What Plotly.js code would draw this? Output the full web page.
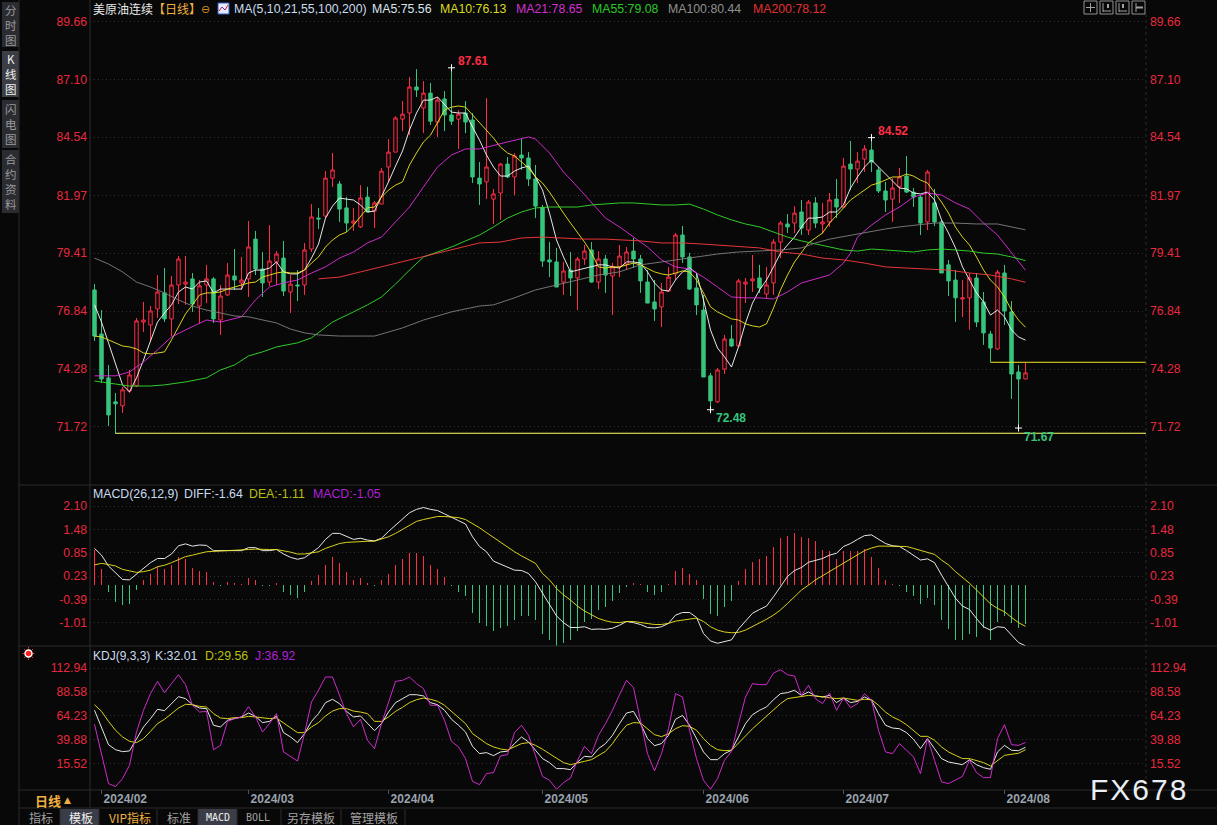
<!DOCTYPE html>
<html>
<head>
<meta charset="utf-8">
<script src="https://cdn.plot.ly/plotly-3.0.1.min.js"></script>
<style>
html,body{margin:0;padding:0;background:#080808;overflow:hidden}
#chart{width:1217px;height:825px}
</style>
</head>
<body>
<div id="chart"></div>
<script>
// ---------- candles (trading-day order) ----------
const openP=[77.78,75.83,73.89,72.83,72.65,73.31,73.53,76.36,76.23,76.94,77.65,76.50,78.00,78.04,78.27,77.07,78.00,78.27,76.45,77.56,78.40,78.09,78.27,80.03,78.71,78.13,79.02,79.19,77.69,78.00,78.00,79.59,80.96,81.05,82.73,82.47,81.41,80.74,80.57,81.89,81.27,81.58,83.22,83.88,85.34,85.61,86.76,85.83,86.49,85.21,86.23,85.52,85.34,85.61,85.30,82.73,82.56,81.80,82.07,83.35,82.78,83.75,83.62,82.69,81.41,79.11,79.02,78.13,78.66,78.31,79.15,79.55,78.13,79.15,78.40,78.80,78.93,79.50,79.15,78.13,77.25,77.03,77.73,78.49,80.21,79.24,77.87,76.89,73.98,72.83,74.28,75.61,75.30,78.04,78.18,78.31,77.60,78.09,79.90,80.70,80.74,81.23,80.43,81.63,80.70,80.79,81.80,81.45,83.35,83.13,83.57,83.97,83.09,82.16,81.80,82.34,82.82,82.11,81.89,80.79,81.63,80.79,78.89,78.22,77.38,77.43,78.31,77.25,75.83,75.17,78.53,76.81,74.15,73.84];
const highP=[78.04,76.89,74.46,73.22,73.49,74.24,76.54,77.25,77.07,78.44,78.75,78.40,79.28,79.28,78.53,78.22,78.89,78.35,78.00,78.97,79.59,79.24,80.83,80.39,79.46,80.65,79.50,79.95,78.44,78.66,79.86,81.58,81.41,83.04,83.84,82.60,81.89,81.41,82.42,82.34,81.72,83.18,84.46,85.47,86.14,87.20,87.55,87.02,86.94,86.32,86.58,87.61,85.74,86.14,85.61,83.44,86.27,82.25,83.40,83.66,83.84,84.46,83.88,83.31,81.54,79.90,79.64,79.02,79.46,79.24,79.77,79.90,79.50,79.33,78.97,79.77,79.68,80.08,79.33,78.66,78.22,78.09,78.80,80.30,80.61,79.42,78.53,77.56,74.11,74.33,75.79,76.23,78.27,78.31,79.33,78.89,78.80,80.03,80.83,81.14,81.49,81.76,81.76,81.89,81.63,82.07,82.69,83.62,84.37,83.88,84.19,84.52,83.22,82.56,82.73,83.18,83.71,82.29,81.98,83.09,82.25,80.88,79.11,78.66,78.22,78.53,78.53,77.69,75.97,78.66,78.89,77.29,74.46,74.55];
const lowP=[75.52,73.67,71.76,71.41,72.34,73.22,73.49,75.92,75.52,76.54,76.36,75.74,77.16,77.12,76.81,76.28,77.20,76.32,75.79,77.51,77.78,77.78,77.47,78.44,77.47,77.96,78.00,77.51,76.76,77.29,77.56,79.46,80.48,80.96,82.34,80.79,80.34,80.39,80.52,81.23,80.52,81.58,82.56,83.88,84.81,84.63,86.32,84.72,85.08,84.54,84.81,85.08,84.02,84.72,82.51,81.54,81.80,80.70,80.88,82.73,81.98,83.09,82.38,80.96,78.80,78.35,77.91,77.56,77.51,76.89,78.89,78.09,77.82,77.65,76.67,78.35,78.66,78.75,77.65,77.20,76.41,76.14,77.69,78.22,78.97,77.78,76.67,73.93,72.48,72.78,74.06,75.26,75.30,77.20,77.69,77.65,77.43,77.56,79.19,80.30,80.30,80.21,80.21,80.52,80.26,80.57,80.96,81.41,82.20,82.51,83.00,83.00,82.07,81.23,80.79,81.63,82.07,81.45,80.21,80.43,80.61,78.53,77.51,76.36,76.58,76.01,76.14,75.35,74.59,75.13,76.23,72.96,71.67,73.84];
const closeP=[75.74,73.84,72.25,72.74,73.36,74.02,76.41,76.45,76.85,77.69,76.50,78.00,79.15,78.13,77.16,77.96,78.27,76.50,77.51,78.44,78.22,78.22,79.68,78.71,78.09,79.06,79.37,77.73,78.04,77.96,79.55,81.01,80.92,82.73,83.09,81.36,80.74,80.83,81.85,81.23,81.63,83.04,83.88,85.39,85.56,86.76,86.63,86.49,85.25,86.18,85.52,85.25,85.56,85.21,82.78,82.47,83.22,82.03,83.35,82.78,83.71,83.62,82.69,81.49,79.06,79.02,77.91,78.62,78.31,79.15,79.50,78.13,79.15,78.44,78.80,79.28,79.46,79.15,78.18,77.20,76.94,77.69,78.35,80.21,79.24,77.82,77.12,73.93,72.87,74.24,75.61,75.30,78.18,78.13,78.27,77.87,78.00,79.90,80.74,80.57,81.18,80.52,81.67,80.74,80.79,81.76,81.45,83.26,83.13,83.48,84.02,83.44,82.16,81.76,82.29,82.78,82.11,81.89,80.74,83.00,80.79,78.53,78.18,77.43,77.43,78.31,76.36,75.88,75.21,78.57,76.85,74.06,73.84,74.11];
// ---------- moving averages ----------
const ma5=[77.12,76.36,75.44,74.55,73.58,73.27,73.89,74.68,75.57,76.36,76.76,77.12,77.69,77.91,77.82,78.13,78.18,77.65,77.82,77.82,77.82,77.82,78.53,78.66,78.66,78.75,79.02,78.58,78.49,78.49,78.66,79.19,79.81,80.96,81.49,81.85,81.80,81.76,81.54,81.23,81.27,81.89,82.56,83.26,83.93,84.86,85.61,86.18,86.18,86.32,86.00,85.65,85.61,85.61,84.99,84.41,83.75,83.22,82.82,82.82,83.04,83.18,83.26,82.78,82.20,81.18,79.99,79.24,78.58,78.66,78.75,78.80,78.89,78.89,78.80,78.75,79.02,79.02,78.97,78.58,78.09,77.78,77.73,78.22,78.58,78.75,78.53,77.34,76.01,75.21,74.82,74.37,75.26,76.32,77.20,77.78,78.22,78.80,79.41,79.77,80.12,80.57,80.96,80.96,81.01,81.23,81.23,81.54,82.29,82.78,83.22,83.53,83.22,82.87,82.56,82.29,82.25,82.07,82.03,82.11,81.76,80.88,80.30,79.64,78.80,78.22,77.65,77.25,76.67,76.89,76.59,76.01,75.70,75.56];
const ma10=[75.74,75.70,75.57,75.44,75.30,75.26,75.17,74.99,74.95,74.99,75.04,75.57,76.14,76.72,77.12,77.56,77.65,77.65,77.69,77.82,77.91,78.00,78.09,78.13,78.35,78.44,78.53,78.58,78.53,78.53,78.66,78.97,79.24,79.68,79.99,80.21,80.34,80.65,81.01,81.41,81.45,81.89,82.20,82.42,82.56,83.31,83.84,84.33,84.63,85.21,85.74,85.87,85.92,85.87,85.52,85.17,84.86,84.50,84.10,83.84,83.71,83.44,83.18,82.78,82.51,82.11,81.63,81.18,80.74,80.34,79.90,79.41,78.80,78.75,78.80,78.80,78.89,78.97,78.89,78.75,78.58,78.49,78.44,78.53,78.62,78.58,78.22,77.65,77.03,76.81,76.67,76.50,76.45,76.28,76.19,76.14,76.28,76.98,77.78,78.44,79.02,79.46,79.86,80.08,80.30,80.74,81.10,81.41,81.76,81.98,82.20,82.42,82.51,82.64,82.78,82.78,82.91,82.82,82.64,82.51,82.11,81.67,81.18,80.56,80.12,79.77,79.24,78.66,78.22,77.91,77.47,76.89,76.45,76.13];
const ma21Day=[0,3,5,7,9,11,13,16,18,21,23,25,27,29,31,33,35,37,39,41,43,45,47,49,51,53,55,57,59,62,63,65,67,69,71,73,75,77,79,81,83,85,87,89,91,93,95,97,99,101,103,105,107,108,109,111,113,115,117,119,121,123,125,127,129,131,133];
const ma21=[73.98,73.98,74.15,74.59,75.13,75.70,76.01,76.45,76.36,76.59,77.34,77.91,78.09,78.22,78.53,78.80,79.19,79.46,79.86,80.12,80.79,81.45,82.34,83.22,83.75,84.02,84.02,84.19,84.33,84.55,84.46,83.84,83.00,82.34,81.63,80.96,80.57,80.12,79.68,79.11,78.80,78.71,78.35,77.91,77.47,77.43,77.43,77.38,77.69,78.09,78.27,78.44,78.97,79.41,80.12,80.65,81.10,81.45,81.89,82.07,81.98,81.63,81.36,80.74,80.21,79.41,78.65];
const ma55Day=[0,3,5,8,10,13,16,18,20,22,24,26,29,31,33,34,37,39,41,43,45,47,49,51,53,55,57,59,61,63,65,67,69,71,73,75,77,79,81,83,85,87,89,91,93,95,97,99,101,103,105,107,109,111,113,115,117,119,121,123,125,127,129,131,133];
const ma55=[73.75,73.62,73.53,73.53,73.58,73.71,73.89,74.24,74.46,74.86,75.04,75.26,75.44,75.66,76.10,76.36,76.81,77.12,77.47,78.04,78.66,79.24,79.46,79.68,79.95,80.21,80.57,80.96,81.23,81.41,81.45,81.45,81.45,81.54,81.58,81.63,81.63,81.58,81.54,81.54,81.58,81.36,81.10,80.88,80.70,80.57,80.34,80.12,79.95,79.81,79.68,79.55,79.50,79.59,79.55,79.50,79.46,79.55,79.59,79.55,79.50,79.41,79.37,79.24,79.08];
const ma100Day=[0,2,4,6,8,10,12,14,16,18,20,22,24,26,28,30,32,35,38,40,42,44,47,51,55,57,60,63,66,69,72,75,78,81,83,86,89,92,95,98,101,103,105,108,111,113,115,117,120,123,126,129,131,133];
const ma100=[79.19,78.93,78.58,78.13,77.91,77.65,77.34,77.07,76.89,76.76,76.63,76.59,76.45,76.32,76.05,75.88,75.79,75.74,75.74,75.74,75.92,76.10,76.45,76.81,77.07,77.12,77.43,77.78,78.00,78.22,78.44,78.58,78.89,79.02,79.11,79.24,79.37,79.46,79.50,79.55,79.64,79.86,80.03,80.21,80.39,80.48,80.57,80.65,80.74,80.74,80.70,80.70,80.57,80.44];
const ma200Day=[32,35,38,41,45,49,53,55,58,61,64,67,70,73,76,78,81,84,87,89,92,95,98,101,104,107,110,113,116,119,122,125,128,131,133];
const ma200=[78.27,78.35,78.58,78.80,79.11,79.41,79.68,79.86,79.90,80.08,80.12,80.08,80.03,80.03,79.99,79.95,79.86,79.86,79.81,79.77,79.68,79.64,79.46,79.37,79.19,79.11,78.97,78.80,78.75,78.71,78.66,78.53,78.44,78.27,78.12];
// ---------- MACD ----------
const macdBar=[0.92,0.41,-0.18,-0.46,-0.55,-0.50,-0.14,0.12,0.30,0.48,0.43,0.54,0.73,0.68,0.46,0.38,0.33,0.07,-0.04,0.07,0.04,0.03,0.17,0.12,-0.04,-0.04,0.04,-0.20,-0.28,-0.36,-0.20,0.09,0.25,0.54,0.73,0.57,0.33,0.14,0.17,0.04,-0.02,0.14,0.30,0.54,0.68,0.86,0.86,0.78,0.52,0.41,0.20,-0.04,-0.18,-0.31,-0.74,-1.03,-1.11,-1.24,-1.16,-1.11,-0.95,-0.82,-0.82,-0.95,-1.30,-1.46,-1.62,-1.56,-1.48,-1.24,-0.98,-0.92,-0.68,-0.60,-0.44,-0.23,-0.07,0.06,0.01,-0.18,-0.26,-0.18,0.01,0.36,0.44,0.30,0.14,-0.39,-0.79,-0.82,-0.60,-0.44,0.09,0.41,0.62,0.70,0.76,1.00,1.24,1.29,1.37,1.28,1.26,1.16,0.94,0.89,0.70,0.89,0.89,0.89,0.96,0.73,0.44,0.14,0.01,-0.04,-0.18,-0.31,-0.52,-0.36,-0.55,-0.95,-1.19,-1.46,-1.46,-1.32,-1.38,-1.16,-1.48,-0.98,-0.84,-1.03,-1.14,-1.05];
const diffLine=[0.97,0.79,0.50,0.32,0.14,0.13,0.28,0.44,0.59,0.70,0.70,0.82,1.04,1.09,1.03,1.06,1.05,0.91,0.91,0.91,0.91,0.91,0.99,0.99,0.91,0.91,0.94,0.82,0.73,0.68,0.72,0.86,0.99,1.21,1.37,1.37,1.30,1.21,1.24,1.19,1.17,1.24,1.42,1.59,1.74,1.92,2.01,2.06,2.01,1.98,1.89,1.79,1.71,1.62,1.28,1.02,0.88,0.63,0.55,0.46,0.39,0.38,0.30,0.08,-0.23,-0.54,-0.83,-1.01,-1.14,-1.14,-1.12,-1.19,-1.18,-1.19,-1.16,-1.08,-0.98,-1.01,-1.06,-1.14,-1.15,-1.12,-1.03,-0.81,-0.74,-0.74,-0.87,-1.30,-1.50,-1.56,-1.51,-1.47,-1.18,-0.98,-0.76,-0.66,-0.57,-0.32,-0.05,0.22,0.38,0.46,0.60,0.66,0.70,0.79,0.84,1.02,1.10,1.21,1.31,1.33,1.22,1.10,1.04,1.02,0.91,0.79,0.66,0.69,0.59,0.26,-0.05,-0.36,-0.57,-0.66,-0.90,-1.12,-1.21,-1.12,-1.14,-1.34,-1.54,-1.63];
const deaLine=[0.53,0.57,0.54,0.50,0.41,0.37,0.33,0.35,0.39,0.48,0.52,0.59,0.68,0.75,0.79,0.84,0.88,0.89,0.89,0.91,0.92,0.92,0.94,0.95,0.94,0.94,0.94,0.91,0.87,0.82,0.82,0.85,0.88,0.97,1.04,1.10,1.13,1.14,1.16,1.16,1.16,1.21,1.28,1.37,1.48,1.59,1.69,1.74,1.79,1.82,1.82,1.81,1.79,1.74,1.64,1.52,1.39,1.26,1.13,0.99,0.88,0.77,0.66,0.57,0.30,0.13,-0.10,-0.27,-0.41,-0.57,-0.70,-0.81,-0.90,-0.96,-1.00,-1.01,-0.98,-0.98,-1.01,-1.03,-1.06,-1.06,-1.03,-0.97,-0.94,-0.91,-0.89,-0.98,-1.12,-1.21,-1.26,-1.28,-1.27,-1.21,-1.12,-1.03,-0.92,-0.81,-0.67,-0.50,-0.32,-0.14,-0.01,0.13,0.24,0.35,0.46,0.57,0.68,0.79,0.91,0.98,1.03,1.03,1.03,1.03,1.02,0.97,0.91,0.86,0.81,0.66,0.53,0.35,0.20,0.04,-0.14,-0.32,-0.51,-0.63,-0.72,-0.87,-1.01,-1.11];
// ---------- KDJ ----------
const kLine=[69.8,52.8,34.7,29.6,27.6,28.3,40.9,52.8,61.3,70.8,69.4,76.6,83.7,81.7,75.5,72.1,71.5,54.5,52.8,59.6,61.3,63.0,67.0,63.6,57.2,58.5,63.9,47.0,42.6,36.8,45.9,58.5,66.4,77.6,81.0,76.6,68.7,63.0,64.0,56.2,49.0,56.2,68.0,77.6,81.7,85.7,85.7,84.4,77.6,75.5,69.8,60.6,54.5,47.7,33.0,25.6,26.6,23.5,27.3,28.0,35.8,42.6,37.5,29.0,20.5,16.4,10.3,10.3,9.2,17.0,22.8,22.2,30.7,35.8,44.3,56.2,67.0,68.7,56.2,40.9,33.7,35.8,44.3,60.6,64.6,54.5,40.9,27.3,19.4,19.4,25.6,29.0,42.6,56.2,65.3,69.8,73.2,80.6,86.8,87.8,90.2,85.0,88.5,84.4,83.4,85.0,77.6,82.3,77.6,78.9,83.4,80.0,66.4,54.5,51.7,51.0,47.0,40.2,30.7,40.9,30.7,20.5,17.0,15.4,14.3,19.4,14.3,11.2,9.6,27.3,34.0,29.0,28.6,32.01];
const dLine=[75.5,68.7,58.5,49.4,42.6,38.2,36.8,40.9,48.3,56.2,60.6,66.4,72.1,75.9,75.5,73.8,73.1,66.4,61.9,61.3,62.3,62.3,63.6,63.0,61.9,61.3,61.9,57.2,51.7,47.0,47.0,52.8,57.2,64.0,69.0,71.5,71.5,69.0,68.0,66.4,58.5,58.5,63.0,68.7,72.8,77.6,80.6,82.3,81.0,79.0,74.9,68.7,63.0,56.2,46.0,40.9,35.8,32.4,30.3,29.3,32.4,35.8,36.8,34.0,30.0,25.6,20.5,16.4,14.3,15.7,17.7,19.4,23.8,27.9,35.8,45.9,54.5,57.2,56.8,51.0,44.9,42.9,45.9,51.0,54.1,53.4,49.4,40.9,34.0,29.6,28.6,29.0,35.8,43.6,51.0,57.2,64.0,70.4,76.6,81.7,82.7,83.4,85.0,84.4,83.4,82.7,81.7,82.3,81.0,80.0,81.0,80.6,74.9,68.0,63.0,59.6,55.1,49.4,43.2,43.2,39.2,32.4,27.3,23.8,20.5,20.5,18.4,16.4,13.0,18.7,23.8,24.9,25.9,29.56];
const jLine=[55.5,25.6,-5.0,-8.1,0.0,13.7,47.7,69.8,86.8,99.3,87.8,97.0,106.1,96.0,74.9,68.0,68.7,29.6,34.0,58.5,61.3,63.0,73.5,63.0,47.7,56.2,66.4,27.3,22.2,18.0,45.9,78.3,90.2,103.8,103.8,85.0,66.4,52.8,60.6,39.2,30.6,56.2,78.3,99.3,100.4,103.8,97.0,91.9,74.9,74.9,59.6,38.1,32.4,20.5,-2.7,-6.1,5.2,6.2,23.2,24.5,47.0,54.5,44.3,22.2,2.4,-1.6,-10.8,-4.0,0.7,18.8,33.0,25.6,44.3,56.2,69.8,85.7,100.4,92.9,59.6,25.6,7.9,25.6,51.0,86.8,83.4,49.4,20.5,-1.6,-10.8,0.0,18.8,27.9,56.2,83.4,97.0,96.0,96.0,107.8,111.2,106.1,104.8,85.0,95.3,81.7,76.6,87.4,69.8,82.3,72.5,76.6,86.8,80.0,49.4,27.3,25.6,35.8,29.0,22.2,5.2,40.9,18.8,-3.3,-5.0,-1.6,2.4,18.8,6.2,1.1,1.1,40.9,55.1,34.7,34.0,36.92];
// ---------- axis labels ----------
const priceTicks=[89.66,87.10,84.54,81.97,79.41,76.84,74.28,71.72];
const priceLabels=['89.66','87.10','84.54','81.97','79.41','76.84','74.28','71.72'];
const macdTicks=[2.10,1.48,0.85,0.23,-0.39,-1.01];
const macdLabels=['2.10','1.48','0.85','0.23','-0.39','-1.01'];
const kdjTicks=[112.94,88.58,64.23,39.88,15.52];
const kdjLabels=['112.94','88.58','64.23','39.88','15.52'];
const monthDays=[1,22,42,64,87,107,130];
const monthLabels=['2024/02','2024/03','2024/04','2024/05','2024/06','2024/07','2024/08'];
// extreme labels and support/resistance levels
const extremeDays=[51,111,88,132];
const extremeVals=[87.61,84.52,72.48,71.67];
const lowLevel=71.44, lowLevelStart=3;
const midLevel=74.58, midLevelStart=128;

const RED='#ff2d46',GREEN='#37c47d',BG='#080808';
const days=closeP.map((_,i)=>i);
const xEnd=(1146-94.5)/7, xStart=(90-94.5)/7;
const px=x=>x/1217, py=y=>1-y/825;

function line(x,y,color,yaxis,w){return {type:'scatter',mode:'lines',x,y,yaxis,xaxis:'x',hoverinfo:'skip',showlegend:false,line:{color,width:w||0.9}};}
const traces=[
 {type:'candlestick',x:days,open:openP,high:highP,low:lowP,close:closeP,xaxis:'x',yaxis:'y',hoverinfo:'skip',showlegend:false,whiskerwidth:0,
  increasing:{line:{color:RED,width:1},fillcolor:BG},decreasing:{line:{color:GREEN,width:1},fillcolor:GREEN}},
 line(days,ma5,'#ffffff','y'),
 line(days,ma10,'#f2e81e','y'),
 line(ma21Day,ma21,'#e22fe0','y'),
 line(ma55Day,ma55,'#34e02c','y'),
 line(ma100Day,ma100,'#808080','y'),
 line(ma200Day,ma200,'#ff3b3b','y'),
 line([lowLevelStart,xEnd],[lowLevel,lowLevel],'#ffff66','y',1),
 line([midLevelStart,xEnd],[midLevel,midLevel],'#f2e81e','y',1),
 {type:'scatter',mode:'markers',x:extremeDays,y:extremeVals,xaxis:'x',yaxis:'y',hoverinfo:'skip',showlegend:false,marker:{symbol:'cross-thin',size:5,line:{color:'#ffffff',width:1}}},
 {type:'bar',x:days,y:macdBar,xaxis:'x',yaxis:'y2',width:0.17,hoverinfo:'skip',showlegend:false,marker:{color:macdBar.map(v=>v>=0?RED:GREEN),line:{width:0}}},
 line(days,diffLine,'#ffffff','y2'),
 line(days,deaLine,'#f2e81e','y2'),
 line(days,kLine,'#ffffff','y3'),
 line(days,dLine,'#f2e81e','y3'),
 line(days,jLine,'#e22fe0','y3'),
 {type:'scatter',mode:'markers',x:[0],y:[priceTicks[0]],xaxis:'x',yaxis:'y4',opacity:0,hoverinfo:'skip',showlegend:false},
 {type:'scatter',mode:'markers',x:[0],y:[macdTicks[0]],xaxis:'x',yaxis:'y5',opacity:0,hoverinfo:'skip',showlegend:false},
 {type:'scatter',mode:'markers',x:[0],y:[kdjTicks[0]],xaxis:'x',yaxis:'y6',opacity:0,hoverinfo:'skip',showlegend:false}
];

const tickFont={family:'"Liberation Sans",Arial,sans-serif',size:12.2,color:'#e8283f'};
const priceRange=[69.15,90.61], macdRange=[-1.633,2.66], kdjRange=[-11.55,135.4];
const priceDom=[py(485),1], macdDom=[py(646),py(485)], kdjDom=[py(790),py(646)];
function leftAxis(dom,range,vals,text){return {domain:dom,range,anchor:'x',side:'left',fixedrange:true,tickmode:'array',tickvals:vals,ticktext:text,tickfont:tickFont,ticks:'',ticklabelstandoff:2,
  showgrid:true,gridcolor:'#333333',griddash:'1px,3px',gridwidth:1,zeroline:false,showline:false};}
function rightAxis(over,range,vals,text){return {overlaying:over,range,anchor:'x',side:'right',fixedrange:true,tickmode:'array',tickvals:vals,ticktext:text,tickfont:tickFont,ticks:'',ticklabelstandoff:3,
  showgrid:false,zeroline:false,showline:false};}

const sansCN='"Noto Sans CJK SC","Liberation Sans",sans-serif', sans='"Liberation Sans",Arial,sans-serif';
function note(text,x,y,color,size,opts){return Object.assign({text,x:px(x),y:py(y),xref:'paper',yref:'paper',xanchor:'left',yanchor:'middle',showarrow:false,align:'left',borderpad:0,
  font:{family:sans,size:size||12.3,color}},opts||{});}
const cn=(text,x,y,color,size,opts)=>{const a=note(text,x,y,color,size,opts);a.font.family=sansCN;return a;};

const annotations=[
 cn('美原油连续<span style="color:#f0b040">【日线】</span>',92,9,'#e8e8e8',12),
 note('⊖',200,10,'#d09030',11,{font:{family:'"DejaVu Sans"',size:11,color:'#d09030'}}),
 note('MA(5,10,21,55,100,200)',233,9,'#c8dcf0'),
 note('MA5:75.56',371,9,'#d8e4f0'),
 note('MA10:76.13',439,9,'#dcdc20'),
 note('MA21:78.65',515,9,'#d030d0'),
 note('MA55:79.08',591,9,'#28c828'),
 note('MA100:80.44',667,9,'#909090'),
 note('MA200:78.12',752,9,'#e03030'),
 note('87.61',457,61,RED,12,{font:{family:sans,size:12,color:RED,weight:700}}),
 note('84.52',877,131,RED,12,{font:{family:sans,size:12,color:RED,weight:700}}),
 note('72.48',715,418,GREEN,12,{font:{family:sans,size:12,color:GREEN,weight:700}}),
 note('71.67',1023,437,GREEN,12,{font:{family:sans,size:12,color:GREEN,weight:700}}),
 note('MACD(26,12,9)',92,494,'#c8dcf0'),
 note('DIFF:-1.64',183,494,'#c8dcf0'),
 note('DEA:-1.11',248,494,'#b8c010'),
 note('MACD:-1.05',312,494,'#b020d8'),
 note('KDJ(9,3,3)',92,656,'#c8dcf0',12),
 note('K:32.01',154,656,'#c8dcf0'),
 note('D:29.56',204,656,'#b8c010'),
 note('J:36.92',254,656,'#b020d8'),
 cn('分<br>时<br>图',11,25,'#9a9a9a',11.5,{xanchor:'center',align:'center'}),
 cn('K<br>线<br>图',11,74,'#f0f0f0',11.5,{xanchor:'center',align:'center'}),
 cn('闪<br>电<br>图',11,124,'#9a9a9a',11.5,{xanchor:'center',align:'center'}),
 cn('合<br>约<br>资<br>料',11,182,'#9a9a9a',11.5,{xanchor:'center',align:'center'}),
 cn('日线',34,800,'#f0b040',13,{font:{family:sansCN,size:13,color:'#f0b040',weight:700}}),
 note('▲',63,800,'#f0b040',9,{font:{family:'"DejaVu Sans"',size:9,color:'#f0b040'}}),
 cn('指标',28,817,'#a0a0a0',12),
 cn('模板',68,817,'#f0f0f0',12),
 cn('VIP指标',108,817,'#f0b040',12),
 cn('标准',166,817,'#a0a0a0',12),
 note('MACD',205,817,'#f0f0f0',10,{font:{family:'"DejaVu Sans Mono"',size:10,color:'#f0f0f0'}}),
 note('BOLL',245,817,'#a0a0a0',10,{font:{family:'"DejaVu Sans Mono"',size:10,color:'#a0a0a0'}}),
 cn('另存模板',286,817,'#a0a0a0',12),
 cn('管理模板',349,817,'#a0a0a0',12),
 note('FX678',1089,789,'#e8eef4',30)
];

const grey='#2a2a2a';
const rectP=(x0,y0,x1,y1,fill,lineColor)=>({type:'rect',xref:'paper',yref:'paper',x0:px(x0),x1:px(x1),y0:py(y0),y1:py(y1),fillcolor:fill||'rgba(0,0,0,0)',line:{width:lineColor?1:0,color:lineColor||'rgba(0,0,0,0)'},layer:'below'});
const lineP=(x0,y0,x1,y1,c,w,dash)=>({type:'line',xref:'paper',yref:'paper',x0:px(x0),x1:px(x1),y0:py(y0),y1:py(y1),line:{color:c,width:w||1,dash:dash||'solid'},layer:'above'});
const shapes=[
 rectP(2,2,19,47,'#2b2c32'),rectP(2,51,19,97,'#3c3e46'),rectP(2,100,19,148,'#2b2c32'),rectP(2,150,19,213,'#2b2c32'),
 lineP(19,0,19,825,grey),lineP(90,0,90,808,grey),
 lineP(19,485,1217,485,grey),lineP(19,646,1217,646,grey),lineP(19,790,1217,790,grey),lineP(19,808,1217,808,grey),
 lineP(1146,14,1146,790,'#2a2a2a',1,'dot'),
 rectP(60,809,99,825,'#3a3d48'),rectP(198,809,237,825,'#3a3d48'),
 lineP(60,809,60,825,grey),lineP(99,809,99,825,grey),lineP(157,809,157,825,grey),lineP(198,809,198,825,grey),lineP(237,809,237,825,grey),lineP(281,809,281,825,grey),lineP(341,809,341,825,grey),lineP(405,809,405,825,grey),
 // title icon
 rectP(218,3,229,14,'#e8e8ff','#3060c0'),lineP(219,11,222,7,'#d02020'),lineP(222,7,225,10,'#2040c0'),lineP(225,10,228,5,'#d02020'),
 // toolbar buttons
 rectP(1084,1,1097,14,BG,'#909090'),rectP(1100,1,1113,14,BG,'#909090'),rectP(1116,1,1129,14,BG,'#909090'),rectP(1132,1,1145,14,BG,'#909090'),
 lineP(1090.5,3,1090.5,12,'#a0a0a0'),lineP(1086,7.5,1095,7.5,'#a0a0a0'),
 lineP(1103,3,1103,12,'#a0a0a0'),lineP(1103,11,1111,11,'#a0a0a0'),lineP(1108,4,1108,8,'#a0a0a0',2),
 lineP(1119,3,1119,12,'#a0a0a0'),lineP(1119,11,1127,11,'#a0a0a0'),lineP(1123,4,1123,8,'#a0a0a0',2),
 lineP(1136,3,1136,12,'#a0a0a0'),lineP(1136,7.5,1143,7.5,'#a0a0a0',2),
 // kdj panel marker
 {type:'circle',xref:'paper',yref:'paper',x0:px(25),x1:px(32),y0:py(650),y1:py(657),fillcolor:'#ff2020',line:{color:'#ffffff',width:1.5},layer:'above'},
 lineP(28.5,647,28.5,648.5,'#ff2020'),lineP(28.5,658.5,28.5,660,'#ff2020'),lineP(22.5,653.5,24,653.5,'#ff2020'),lineP(33,653.5,34.5,653.5,'#ff2020'),
 lineP(24,649,25,650,'#ff2020'),lineP(33,649,32,650,'#ff2020'),lineP(24,658,25,657,'#ff2020'),lineP(33,658,32,657,'#ff2020')
];
// month tick marks
monthDays.forEach(d=>shapes.push({type:'line',xref:'x',yref:'paper',x0:d,x1:d,y0:py(790),y1:py(794),line:{color:'#555555',width:1},layer:'above'}));

const layout={
 width:1217,height:825,margin:{l:0,r:0,t:0,b:0,pad:0},paper_bgcolor:BG,plot_bgcolor:BG,showlegend:false,bargap:0,dragmode:false,hovermode:false,
 font:{family:sans,color:'#cccccc'},
 xaxis:{domain:[px(90),px(1146)],range:[xStart,xEnd],anchor:'y3',fixedrange:true,rangeslider:{visible:false},showgrid:false,zeroline:false,showline:false,ticks:'',
   tickmode:'array',tickvals:monthDays.map(d=>d+3.4),ticktext:monthLabels,tickangle:0,
   tickfont:{family:sans,size:12,color:'#9aa3ad',weight:700}},
 yaxis:leftAxis(priceDom,priceRange,priceTicks,priceLabels),
 yaxis2:leftAxis(macdDom,macdRange,macdTicks,macdLabels),
 yaxis3:leftAxis(kdjDom,kdjRange,kdjTicks,kdjLabels),
 yaxis4:rightAxis('y',priceRange,priceTicks,priceLabels),
 yaxis5:rightAxis('y2',macdRange,macdTicks,macdLabels),
 yaxis6:rightAxis('y3',kdjRange,kdjTicks,kdjLabels),
 annotations,shapes
};
Plotly.newPlot('chart',traces,layout,{staticPlot:true,displayModeBar:false,responsive:false}).then(()=>{
  document.querySelectorAll('.annotation text').forEach(t=>{if(t.textContent==='FX678'){t.style.letterSpacing='2px';}});
});
</script>
</body>
</html>
